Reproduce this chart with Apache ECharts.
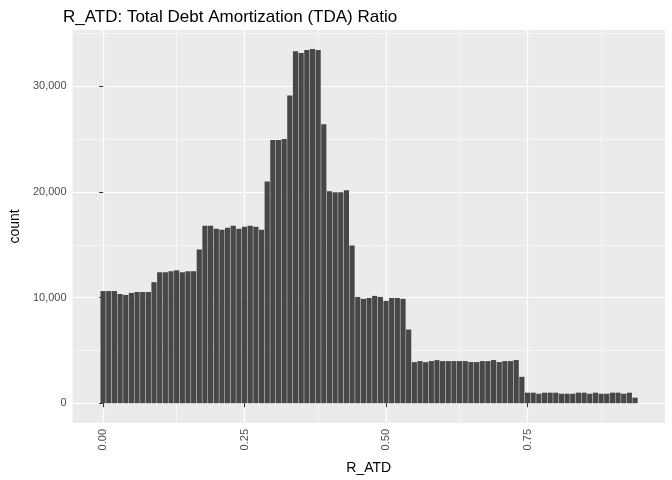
<!DOCTYPE html>
<html lang="en">
  <head>
    <meta charset="UTF-8" />
    <title>R_ATD</title>
    <script src="https://cdn.jsdelivr.net/npm/echarts@6/dist/echarts.min.js"></script>
    <style>
      body { margin: 0; background: #fff; }
      #main { width: 672px; height: 480px; }
    </style>
  </head>
  <body>
    <div id="main"></div>
    <script>
      // bin centers 0.00 .. 0.94, width 0.01
      var counts = [
        10620, 10620, 10620, 10340, 10250, 10440, 10530, 10530, 10530, 11460,
        12400, 12400, 12490, 12590, 12400, 12490, 12490, 14550, 16790, 16790,
        16510, 16420, 16600, 16790, 16510, 16700, 16790, 16700, 16420, 21000,
        24920, 24920, 25010, 29130, 33330, 33150, 33430, 33520, 33430, 26420,
        20060, 19970, 19970, 20160, 14920, 10060, 9880, 9970, 10160, 10060,
        9690, 9970, 9970, 9880, 6980, 3890, 3990, 3890, 3990, 4080,
        3990, 3990, 3990, 3990, 3990, 3900, 3900, 3990, 3990, 4090,
        3900, 3990, 3990, 4090, 2500, 1000, 1000, 900, 1000, 1000,
        1000, 900, 900, 900, 1000, 1000, 900, 1000, 900, 900,
        1000, 1000, 900, 1000, 530
      ];
      var xTicks = [0, 0.25, 0.5, 0.75];
      var yTicks = [0, 10000, 20000, 30000];
      var xMinor = [0.125, 0.375, 0.625, 0.875];
      var yMinor = [5000, 15000, 25000, 35000];

      var barData = counts.map(function (c, i) { return [i / 100, c]; });

      var minorLines = xMinor.map(function (v) { return { xAxis: v }; })
        .concat(yMinor.map(function (v) { return { yAxis: v }; }));

      var chart = echarts.init(document.getElementById("main"));
      chart.setOption({
        animation: false,
        title: {
          text: "R_ATD: Total Debt Amortization (TDA) Ratio",
          left: 58, top: 4,
          textStyle: { fontFamily: "Liberation Sans", fontSize: 17, fontWeight: "normal", color: "#000" }
        },
        grid: {
          left: 63, right: 7, top: 30, bottom: 52,
          show: true, backgroundColor: "#EBEBEB", borderWidth: 0
        },
        xAxis: {
          type: "value", min: -0.054, max: 0.993,
          name: "R_ATD", nameLocation: "middle", nameGap: 38,
          nameTextStyle: { fontFamily: "Liberation Sans", fontSize: 14, color: "#000" },
          axisLine: { show: false },
          axisTick: { show: true, customValues: xTicks, length: 4, lineStyle: { color: "#333" } },
          axisLabel: {
            customValues: xTicks, rotate: 90, fontSize: 11, color: "#4D4D4D",
            fontFamily: "Liberation Sans", margin: 6,
            formatter: function (v) { return v.toFixed(2); }
          },
          splitLine: { show: true, lineStyle: { color: "#fff", width: 1.2 } }
        },
        yAxis: {
          type: "value", min: -1870, max: 35330,
          name: "count", nameLocation: "middle", nameGap: 50,
          nameTextStyle: { fontFamily: "Liberation Sans", fontSize: 14, color: "#000" },
          axisLine: { show: false },
          axisTick: { show: true, customValues: yTicks, length: 4, lineStyle: { color: "#333" } },
          axisLabel: {
            customValues: yTicks, fontSize: 11, color: "#4D4D4D",
            fontFamily: "Liberation Sans", margin: 6
          },
          splitLine: { show: true, lineStyle: { color: "#fff", width: 1.2 } }
        },
        series: [{
          type: "bar",
          data: barData,
          barWidth: 5.2,
          itemStyle: { color: "#474747" },
          markLine: {
            silent: true, symbol: "none", label: { show: false },
            lineStyle: { color: "#fff", width: 0.6, type: "solid" },
            data: minorLines,
            z: 0
          }
        }]
      });
    </script>
  </body>
</html>
